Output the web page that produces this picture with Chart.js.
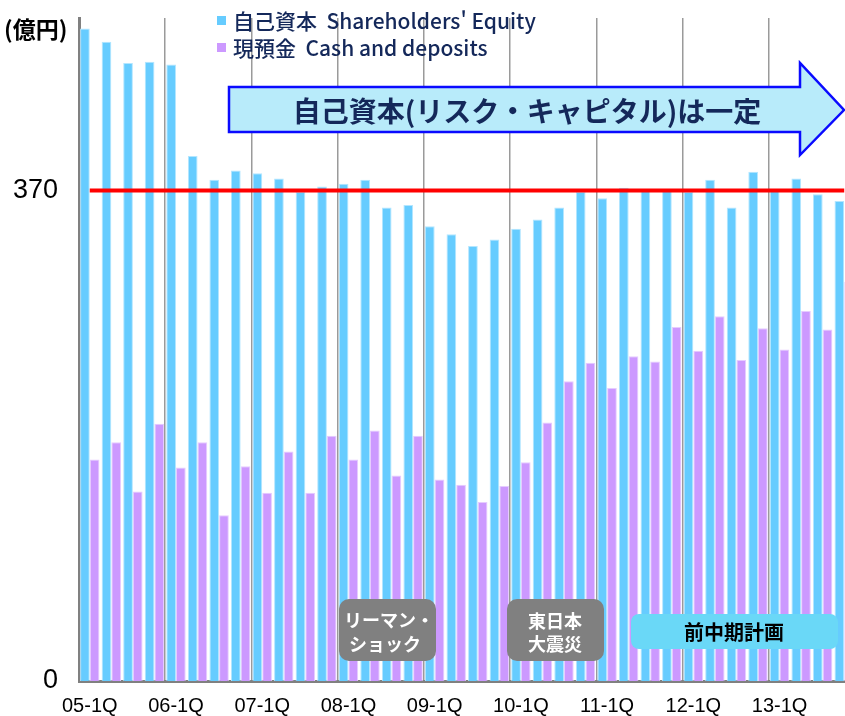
<!DOCTYPE html>
<html lang="ja">
<head>
<meta charset="utf-8">
<title>自己資本と現預金の推移</title>
<script src="https://cdn.jsdelivr.net/npm/chart.js@4.4.1/dist/chart.umd.min.js"></script>
<style>
  html, body { margin: 0; padding: 0; background: #fff; overflow: hidden; }
  #wrap { width: 855px; height: 716px; }
</style>
</head>
<body>
<div id="wrap"><canvas id="chart" width="855" height="716"></canvas></div>
<script>
// quarterly figures, 億円
const quarters = [
  '05-1Q', '05-2Q', '05-3Q', '05-4Q', '06-1Q', '06-2Q', '06-3Q', '06-4Q',
  '07-1Q', '07-2Q', '07-3Q', '07-4Q', '08-1Q', '08-2Q', '08-3Q', '08-4Q',
  '09-1Q', '09-2Q', '09-3Q', '09-4Q', '10-1Q', '10-2Q', '10-3Q', '10-4Q',
  '11-1Q', '11-2Q', '11-3Q', '11-4Q', '12-1Q', '12-2Q', '12-3Q', '12-4Q',
  '13-1Q', '13-2Q', '13-3Q', '13-4Q'
];
const equity = [
  492, 482, 466, 467, 465, 396, 378, 385,
  383, 379, 369, 373, 375, 378, 357, 359,
  343, 337, 328, 333, 341, 348, 357, 369,
  364, 372, 370, 371, 369, 378, 357, 384,
  370, 379, 367, 362
];
const cash = [
  167, 180, 143, 194, 161, 180, 125, 162,
  142, 173, 142, 185, 167, 189, 155, 185,
  152, 148, 135, 147, 165, 195, 226, 240,
  221, 245, 241, 267, 249, 275, 242, 266,
  250, 279, 265, 301
];
const riskCapitalLevel = 370;
const yTicks = [0, 370];

const navy = '#14285a';
const jpFont = "'Noto Sans CJK JP', sans-serif";

function roundBox(c, x, y, w, h, r, fill) {
  c.beginPath();
  c.roundRect(x, y, w, h, r);
  c.fillStyle = fill;
  c.fill();
}

const annotations = {
  id: 'annotations',
  afterDraw(chart) {
    const c = chart.ctx;
    const ds = chart.data.datasets;
    c.save();

    // unit
    c.fillStyle = '#000';
    c.textAlign = 'left';
    c.textBaseline = 'middle';
    c.font = 'bold 23px ' + jpFont;
    c.fillText('(億円)', 4, 29);

    // legend (two rows)
    [0, 1].forEach(i => {
      const y = 21 + i * 27;
      c.fillStyle = ds[i].backgroundColor;
      c.fillRect(217, y - 5, 9, 9);
      c.fillStyle = navy;
      c.font = '500 21px ' + jpFont;
      c.fillText(ds[i].label, 233, y);
    });

    // arrow
    c.beginPath();
    c.moveTo(229, 87);
    c.lineTo(800, 87);
    c.lineTo(800, 63);
    c.lineTo(844, 110);
    c.lineTo(800, 155);
    c.lineTo(800, 132);
    c.lineTo(229, 132);
    c.closePath();
    c.fillStyle = '#b8ebfa';
    c.fill();
    c.lineWidth = 2.5;
    c.strokeStyle = '#0a0aff';
    c.stroke();
    c.fillStyle = navy;
    c.textAlign = 'center';
    c.font = 'bold 28px ' + jpFont;
    c.fillText('自己資本(リスク・キャピタル)は一定', 527, 111);

    // event boxes
    roundBox(c, 339, 599, 97, 62, 10, '#808080');
    roundBox(c, 507, 599, 97, 62, 10, '#808080');
    c.fillStyle = '#fff';
    c.font = 'bold 18px ' + jpFont;
    c.fillText('リーマン・', 389, 620);
    c.fillText('ショック', 385, 644);
    c.fillText('東日本', 555, 621);
    c.fillText('大震災', 555, 644);

    roundBox(c, 631, 614, 207, 35, 8, '#6ad8f7');
    c.fillStyle = '#000';
    c.font = 'bold 20px ' + jpFont;
    c.fillText('前中期計画', 734, 632);

    c.restore();
  }
};

Chart.defaults.font.family = "'Liberation Sans', Arial, sans-serif";

const chart = new Chart(document.getElementById('chart').getContext('2d'), {
  type: 'bar',
  data: {
    labels: quarters,
    datasets: [
      {
        label: "自己資本  Shareholders' Equity",
        data: equity,
        backgroundColor: '#66ccff',
        borderColor: '#b3e6ff',
        borderWidth: 1,
        order: 1
      },
      {
        label: '現預金  Cash and deposits',
        data: cash,
        backgroundColor: '#cc99ff',
        borderColor: '#e6ccff',
        borderWidth: 1,
        order: 1
      },
      {
        type: 'line',
        label: 'risk capital',
        data: [
          { x: quarters[0], y: riskCapitalLevel },
          { x: quarters[quarters.length - 1], y: riskCapitalLevel }
        ],
        borderColor: '#ff0000',
        borderWidth: 4,
        pointRadius: 0,
        order: 0
      }
    ]
  },
  options: {
    responsive: false,
    animation: false,
    layout: { padding: { top: 18, left: 0, right: 0, bottom: 0 } },
    datasets: { bar: { categoryPercentage: 0.9, barPercentage: 1.0 } },
    plugins: { legend: { display: false }, tooltip: { enabled: false } },
    scales: {
      x: {
        grid: {
          color: c => (c.index % 4 === 0 ? '#9a9a9a' : 'rgba(0,0,0,0)'),
          lineWidth: 1.5,
          drawTicks: false
        },
        border: { color: '#808080', width: 3 },
        ticks: {
          autoSkip: false,
          maxRotation: 0,
          padding: 13,
          color: '#000',
          font: { size: 20 },
          callback: function (v) {
            const l = this.getLabelForValue(v);
            return l.endsWith('-1Q') ? l : '';
          }
        },
        afterFit: s => {
          s.height = 35;
          s.paddingLeft = 0;
          s.paddingRight = 0;
        }
      },
      y: {
        min: 0,
        max: 500,
        grid: { display: false },
        border: { color: '#808080', width: 3 },
        ticks: { padding: 13, color: '#000', font: { size: 27 } },
        afterBuildTicks: s => { s.ticks = yTicks.map(v => ({ value: v })); },
        afterFit: s => {
          s.width = 79;
          s.paddingTop = 0;
          s.paddingBottom = 0;
        }
      }
    }
  },
  plugins: [annotations]
});
</script>
</body>
</html>
